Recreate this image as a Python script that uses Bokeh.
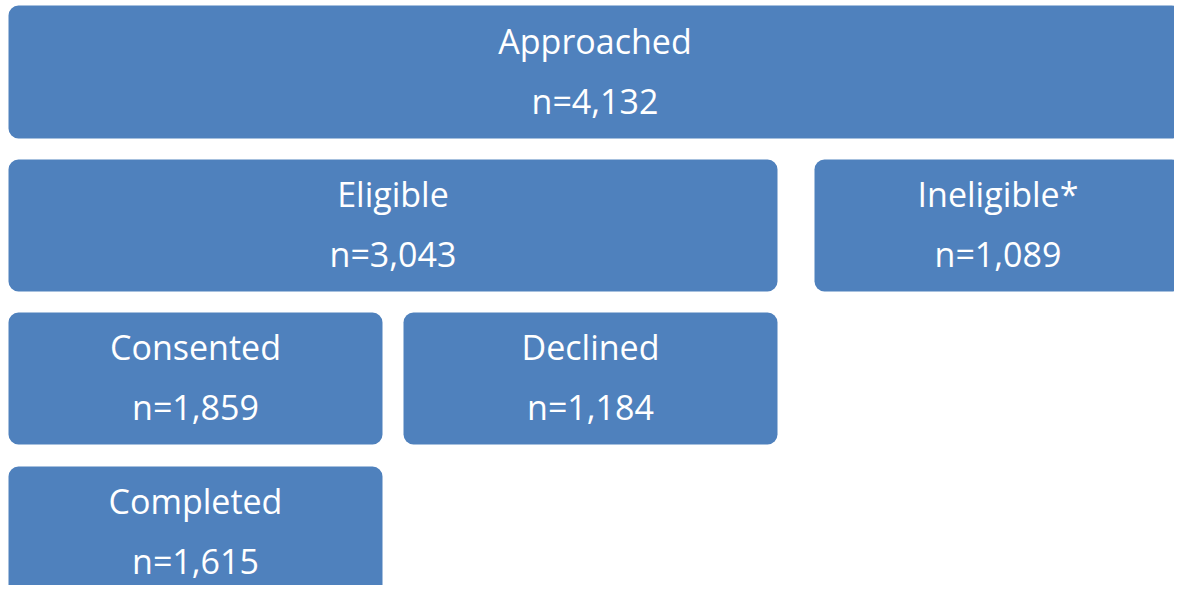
from bokeh.plotting import figure
from bokeh.models import Range1d, ColumnDataSource
from bokeh.core.properties import value
from bokeh.embed import file_html
from bokeh.resources import INLINE

# Data
stages = ["Approached", "Eligible", "Ineligible*", "Consented", "Declined", "Completed"]
counts = [4132, 3043, 1089, 1859, 1184, 1615]

# Layout (pixel coordinates of boxes)
lefts = [8, 8, 814, 8, 403, 8]
rights = [1181, 777, 1181, 382, 777, 382]
tops = [5, 159, 159, 312, 312, 466]
bottoms = [138, 291, 291, 444, 444, 620]

fill = "#4F81BD"
font = "Open Sans"

W, H = 1174, 585
p = figure(width=W, height=H, output_backend="svg", toolbar_location=None,
           x_range=Range1d(0, W), y_range=Range1d(H, 0), min_border=0)
p.axis.visible = False
p.grid.visible = False
p.outline_line_color = None
p.background_fill_color = "white"

src = ColumnDataSource(dict(left=lefts, right=rights, top=tops, bottom=bottoms))
p.quad(left="left", right="right", top="top", bottom="bottom", source=src,
       fill_color=fill, line_color=None, border_radius=10)

cx = [(l + r) / 2 for l, r in zip(lefts, rights)]
label_y = [t + 34 for t in tops]
n_y = [t + 94 for t in tops]
label_y[0] += 1
n_y[0] += 1
ntext = ["n={:,}".format(c) for c in counts]

p.text(x=cx, y=label_y, text=stages, text_align="center", text_baseline="alphabetic",
       text_color="white", text_font=value(font), text_font_size="34px")
p.text(x=cx, y=n_y, text=ntext, text_align="center", text_baseline="alphabetic",
       text_color="white", text_font=value(font), text_font_size="34px")

open("out.html", "w").write(file_html(p, INLINE))
